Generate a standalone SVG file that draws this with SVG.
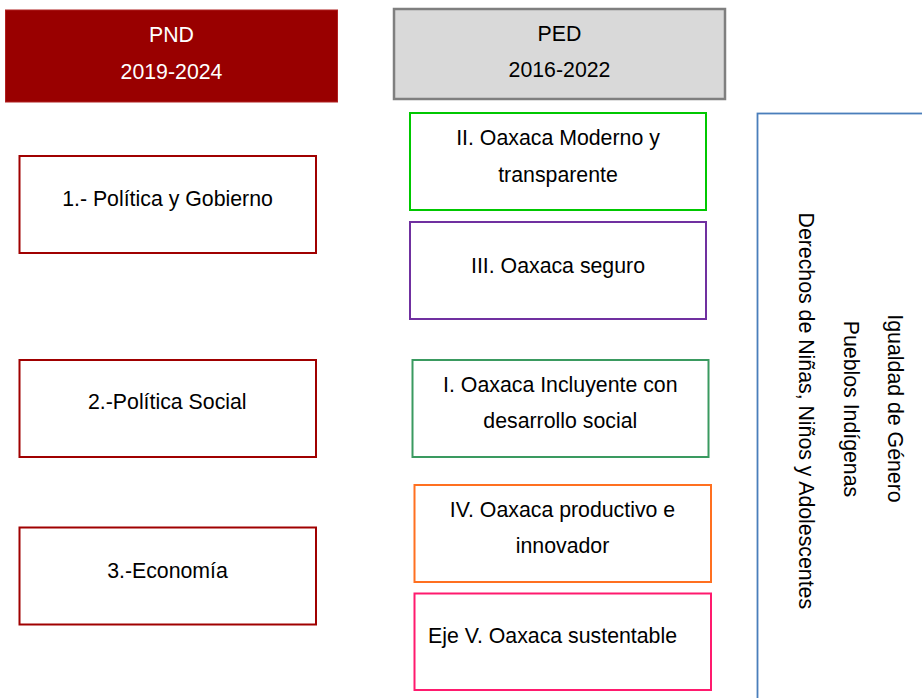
<svg xmlns="http://www.w3.org/2000/svg" width="922" height="698" viewBox="0 0 922 698">
<style>
text{font-family:"Liberation Sans",Arial,sans-serif;font-size:21.3px;fill:#000;text-anchor:middle}
.w{fill:#fff}
.box{fill:#fff;stroke-width:2}
.pnd{stroke:#a00000}
</style>
<rect x="0" y="0" width="922" height="698" fill="#fff"/>
<g id="pnd-header">
<rect x="5.5" y="10" width="332" height="92" fill="#990000" stroke="#b02020" stroke-width="1"/>
<text class="w" x="171.5" y="42.3">PND</text>
<text class="w" x="171.5" y="79.3">2019-2024</text>
</g>
<g id="ped-header">
<rect x="394" y="9" width="331" height="90" fill="#d9d9d9" stroke="#7f7f7f" stroke-width="2.5"/>
<text x="559.5" y="40.7">PED</text>
<text x="559.5" y="76.7">2016-2022</text>
</g>
<g id="pnd-1">
<rect class="box pnd" x="19.5" y="156" width="296.5" height="97"/>
<text x="167.5" y="205.7">1.- Política y Gobierno</text>
</g>
<g id="pnd-2">
<rect class="box pnd" x="19.5" y="360" width="296.5" height="97"/>
<text x="167.3" y="409.3">2.-Política Social</text>
</g>
<g id="pnd-3">
<rect class="box pnd" x="19.5" y="527.5" width="296.5" height="97"/>
<text x="167.5" y="578.3">3.-Economía</text>
</g>
<g id="ped-2">
<rect class="box" x="410" y="113" width="296" height="97" stroke="#00c800"/>
<text x="558" y="144.7">II. Oaxaca Moderno y</text>
<text x="558" y="181.7">transparente</text>
</g>
<g id="ped-3">
<rect class="box" x="410" y="222" width="296" height="97" stroke="#7030a0"/>
<text x="558" y="272.7">III. Oaxaca seguro</text>
</g>
<g id="ped-1">
<rect class="box" x="412.5" y="360" width="296" height="97" stroke="#3a9a60"/>
<text x="560.3" y="391.7">I. Oaxaca Incluyente con</text>
<text x="560.3" y="427.7">desarrollo social</text>
</g>
<g id="ped-4">
<rect class="box" x="414.5" y="485" width="296.5" height="97" stroke="#ff7020"/>
<text x="562.5" y="517.3">IV. Oaxaca productivo e</text>
<text x="562.5" y="553.3">innovador</text>
</g>
<g id="ped-5">
<rect class="box" x="414.5" y="593.5" width="296.5" height="96.5" stroke="#ff1a6e"/>
<text x="552.5" y="642.7">Eje V. Oaxaca sustentable</text>
</g>
<g id="transversales">
<rect x="757.5" y="113.5" width="220" height="620" fill="none" stroke="#4a7ebb" stroke-width="1.8"/>
<text transform="translate(887.5 408.5) rotate(90)">Igualdad de Género</text>
<text transform="translate(843.5 409) rotate(90)">Pueblos Indígenas</text>
<text transform="translate(798.5 410.8) rotate(90)">Derechos de Niñas, Niños y Adolescentes</text>
</g>
<g id="connectors"></g>
</svg>
